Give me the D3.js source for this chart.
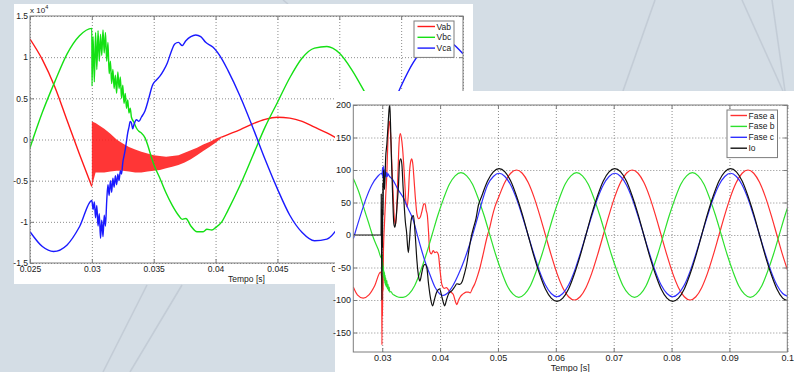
<!DOCTYPE html>
<html lang="en">
<head>
<meta charset="utf-8">
<title>Tensoes e correntes - falta</title>
<script src="https://cdn.jsdelivr.net/npm/d3@7"></script>
<style>
  body { margin: 0; background: #d4dde5; }
  svg { display: block; font-family: "Liberation Sans", Arial, sans-serif; }
</style>
</head>
<body>
<script>

// ---------- plot 1 : line voltages (x 10^4) ----------
var xTicks1 = [0.025, 0.03, 0.035, 0.04, 0.045, 0.05, 0.055, 0.06];
var xLabels1 = ["0.025", "0.03", "0.035", "0.04", "0.045", "0.05", "0.055", "0.06"];
var yTicks1 = [-1.5, -1, -0.5, 0, 0.5, 1, 1.5];
var yLabels1 = ["-1.5", "-1", "-0.5", "0", "0.5", "1", "1.5"];
var names1 = ["Vab", "Vbc", "Vca"];

var vabPre = [[0.025,1.22],[0.026,0.97],[0.027,0.64],[0.028,0.23],[0.029,-0.18],[0.030,-0.57]];
// dense oscillation after the fault: [t, upper, lower]
var vabBand = [[0.0300,0.22,-0.57],[0.0303,0.20,-0.40],[0.0306,0.17,-0.40],[0.0310,0.13,-0.40],
  [0.0315,0.07,-0.39],[0.0320,0.00,-0.38],[0.0325,-0.05,-0.38],[0.0330,-0.09,-0.39],
  [0.0335,-0.12,-0.40],[0.0340,-0.15,-0.40],[0.0345,-0.17,-0.39],[0.0350,-0.19,-0.38],
  [0.0355,-0.20,-0.37],[0.0360,-0.21,-0.35],[0.0365,-0.20,-0.33],[0.0370,-0.19,-0.31],
  [0.0375,-0.16,-0.28],[0.0380,-0.13,-0.24],[0.0385,-0.10,-0.19],[0.0390,-0.06,-0.14],
  [0.0395,-0.03,-0.09],[0.0400,0.01,-0.04],[0.0405,0.04,0.02]];
var vabPost = [[0.0405,0.03],[0.041,0.06],[0.042,0.12],[0.043,0.19],[0.044,0.245],[0.045,0.27],
  [0.046,0.26],[0.047,0.22],[0.048,0.15],[0.049,0.08],[0.050,0.0],[0.051,-0.08],[0.052,-0.16],[0.053,-0.22]];

var vbc = [[0.025,-0.1],[0.026,0.33],[0.027,0.7],[0.028,1.04],[0.029,1.26],[0.030,1.35],
  [0.03001,0.65],[0.0301,1.25],[0.0302,0.7],[0.0303,1.3],[0.0304,0.85],[0.0305,1.32],[0.0306,0.95],
  [0.0307,1.28],[0.0308,1.02],[0.0309,1.33],[0.0310,1.05],[0.0311,1.3],[0.0312,0.95],[0.0313,1.18],
  [0.0314,0.8],[0.0315,0.95],[0.0316,0.68],[0.0317,0.85],[0.0318,0.62],[0.0319,0.78],[0.0320,0.56],
  [0.0321,0.82],[0.0322,0.62],[0.0323,0.76],[0.0324,0.5],[0.0325,0.66],[0.0326,0.44],[0.0327,0.56],
  [0.0328,0.38],[0.0329,0.48],[0.0330,0.32],[0.0331,0.38],[0.0332,0.27],[0.0334,0.21],[0.0336,0.14],
  [0.0338,0.1],[0.0340,0.08],[0.0343,0.02],[0.0345,-0.06],[0.0348,-0.21],[0.035,-0.3],[0.0355,-0.47],
  [0.036,-0.65],[0.0365,-0.8],[0.037,-0.92],[0.0373,-0.97],[0.0376,-0.96],[0.038,-1.05],[0.0385,-1.12],
  [0.039,-1.12],[0.0393,-1.09],[0.0397,-1.1],[0.040,-1.07],[0.0405,-1.0],[0.041,-0.86],[0.042,-0.55],
  [0.043,-0.2],[0.044,0.15],[0.045,0.45],[0.046,0.75],[0.047,0.99],[0.048,1.11],[0.049,1.13],
  [0.050,1.05],[0.051,0.85],[0.052,0.59],[0.053,0.3],[0.054,0.0]];

var vca = [[0.025,-1.12],[0.026,-1.3],[0.0269,-1.36],[0.028,-1.28],[0.029,-1.06],[0.030,-0.74],
  [0.0301,-0.85],[0.0302,-0.76],[0.0303,-0.95],[0.0304,-0.8],[0.0305,-1.05],[0.0306,-0.9],[0.0307,-1.2],
  [0.0308,-0.98],[0.0309,-1.18],[0.0310,-0.92],[0.0311,-1.05],[0.0312,-0.75],[0.0313,-0.55],[0.0314,-0.68],
  [0.0315,-0.5],[0.0316,-0.64],[0.0317,-0.47],[0.0318,-0.58],[0.0319,-0.44],[0.0320,-0.55],[0.0321,-0.42],
  [0.0322,-0.5],[0.0323,-0.38],[0.0324,-0.42],[0.0325,-0.28],[0.0326,-0.2],[0.0327,-0.12],[0.0328,-0.02],
  [0.0329,0.08],[0.0330,0.15],[0.0331,0.22],[0.0332,0.2],[0.0333,0.13],[0.0334,0.18],[0.0336,0.24],
  [0.0338,0.22],[0.034,0.27],[0.0343,0.35],[0.0346,0.5],[0.0349,0.66],[0.0352,0.72],[0.0355,0.77],
  [0.0358,0.84],[0.0361,0.93],[0.0364,1.06],[0.0367,1.16],[0.037,1.18],[0.0373,1.14],[0.0376,1.2],
  [0.038,1.25],[0.0384,1.27],[0.0388,1.25],[0.0392,1.18],[0.0398,1.12],[0.0405,0.98],[0.041,0.84],
  [0.042,0.52],[0.043,0.15],[0.044,-0.24],[0.045,-0.6],[0.046,-0.92],[0.047,-1.13],[0.048,-1.23],
  [0.049,-1.21],[0.050,-1.05],[0.051,-0.78],[0.052,-0.45],[0.053,-0.08],[0.054,0.3],[0.055,0.65],
  [0.056,0.94],[0.057,1.13],[0.058,1.22],[0.059,1.18],[0.060,1.04]];

// ---------- plot 2 : phase currents ----------
var xTicks2 = [0.03, 0.04, 0.05, 0.06, 0.07, 0.08, 0.09, 0.1];
var xLabels2 = ["0.03", "0.04", "0.05", "0.06", "0.07", "0.08", "0.09", "0.1"];
var yTicks2 = [-150, -100, -50, 0, 50, 100, 150, 200];
var yLabels2 = ["-150", "-100", "-50", "0", "50", "100", "150", "200"];
var names2 = ["Fase a", "Fase b", "Fase c", "Io"];

var faseA = [[0.025,-80],[0.0257,-92],[0.0267,-97],[0.0277,-92],[0.0287,-78],[0.0297,-57],[0.0299,-65],
  [0.02995,-169],[0.0300,-90],[0.03005,-125],[0.0301,-60],[0.03015,-85],[0.0302,-29],[0.0304,20],[0.0306,60],
  [0.0308,95],[0.0310,150],[0.0312,175],[0.0313,172],[0.0315,145],[0.0317,100],[0.0319,60],[0.0321,25],
  [0.0323,15],[0.0325,40],[0.0327,90],[0.0329,140],[0.0331,156],[0.0333,150],[0.0335,135],[0.0337,110],
  [0.0339,80],[0.0341,50],[0.0343,43],[0.0345,60],[0.0347,95],[0.0349,112],[0.0351,117],[0.0353,108],
  [0.0355,85],[0.0357,60],[0.0360,32],[0.0363,25],[0.0366,28],[0.0369,38],[0.0372,48],[0.0374,48],
  [0.0376,38],[0.0378,30],[0.0380,5],[0.0382,-25],[0.0385,-29],[0.0388,-24],[0.0391,-27],[0.0394,-26],
  [0.0397,-30],[0.0400,-55],[0.0403,-76],[0.0407,-82],[0.0411,-81],[0.0415,-85],[0.0419,-88],[0.0423,-92],
  [0.0427,-104],[0.0429,-107],[0.0432,-100],[0.0435,-95],[0.0438,-92],[0.0441,-90],[0.0445,-88],
  [0.0449,-88],[0.0452,-89],[0.0456,-82],[0.0460,-75],[0.0465,-62],[0.0469,-50],[0.0473,-35],[0.0477,-19],
  [0.0482,0],[0.0486,12],[0.0490,28],[0.0495,44],[0.0502,60],[0.0512,81],[0.0522,95],[0.0532,100],
  [0.0542,95],[0.0552,81],[0.0562,59],[0.0572,31],[0.0582,0],[0.0592,-31],[0.0602,-59],[0.0612,-81],
  [0.0622,-95],[0.0632,-100],[0.0642,-95],[0.0652,-81],[0.0662,-59],[0.0672,-31],[0.0682,0],[0.0692,31],
  [0.0702,59],[0.0712,81],[0.0722,95],[0.0732,100],[0.0742,95],[0.0752,81],[0.0762,59],[0.0772,31],
  [0.0782,0],[0.0792,-31],[0.0802,-59],[0.0812,-81],[0.0822,-95],[0.0832,-100],[0.0842,-95],[0.0852,-81],
  [0.0862,-59],[0.0872,-31],[0.0882,0],[0.0892,31],[0.0902,59],[0.0912,81],[0.0922,95],[0.0932,100],
  [0.0942,95],[0.0952,81],[0.0962,59],[0.0972,31],[0.0982,0],[0.0992,-31],[0.1,-53]];

var faseB = [[0.025,87],[0.026,65],[0.0267,45],[0.0276,20],[0.0285,-5],[0.0293,-22],[0.0299,-36],
  [0.03,-30],[0.03005,-55],[0.0301,-42],[0.03015,-62],[0.0302,-48],[0.03025,-66],[0.0303,-55],[0.03035,-70],
  [0.0304,-58],[0.03045,-74],[0.0305,-62],[0.03055,-77],[0.0306,-66],[0.0307,-80],[0.0308,-70],[0.0309,-83],
  [0.031,-76],[0.0311,-86],[0.0312,-80],[0.0313,-88],[0.0315,-87],[0.0318,-91],[0.0322,-93],[0.0326,-95],
  [0.0331,-96],[0.0336,-96],[0.0346,-91],[0.0356,-78],[0.0366,-56],[0.0376,-30],[0.0386,0],[0.0396,30],
  [0.0406,56],[0.0416,78],[0.0426,91],[0.0436,96],[0.0446,91],[0.0456,78],[0.0466,56],[0.0476,30],
  [0.0486,0],[0.0496,-30],[0.0506,-56],[0.0516,-78],[0.0526,-91],[0.0536,-96],[0.0546,-91],[0.0556,-78],
  [0.0566,-56],[0.0576,-30],[0.0586,0],[0.0596,30],[0.0606,56],[0.0616,78],[0.0626,91],[0.0636,96],
  [0.0646,91],[0.0656,78],[0.0666,56],[0.0676,30],[0.0686,0],[0.0696,-30],[0.0706,-56],[0.0716,-78],
  [0.0726,-91],[0.0736,-96],[0.0746,-91],[0.0756,-78],[0.0766,-56],[0.0776,-30],[0.0786,0],[0.0796,30],
  [0.0806,56],[0.0816,78],[0.0826,91],[0.0836,96],[0.0846,91],[0.0856,78],[0.0866,56],[0.0876,30],
  [0.0886,0],[0.0896,-30],[0.0906,-56],[0.0916,-78],[0.0926,-91],[0.0936,-96],[0.0946,-91],[0.0956,-78],
  [0.0966,-56],[0.0976,-30],[0.0986,0],[0.0996,30],[0.1,41]];

var faseC = [[0.025,-6],[0.0252,0],[0.0262,29],[0.0272,56],[0.0282,77],[0.0292,90],[0.0299,95],
  [0.03,92],[0.03005,104],[0.0301,88],[0.03015,103],[0.0302,90],[0.03025,106],[0.0303,91],[0.03035,101],
  [0.0304,88],[0.03045,99],[0.0305,90],[0.0306,97],[0.0307,89],[0.0308,96],[0.0309,90],[0.031,94],
  [0.0312,91],[0.0319,84],[0.0326,72],[0.0336,58],[0.0345,40],[0.0354,22],[0.036,2],[0.0365,-14],
  [0.0373,-38],[0.0382,-60],[0.0391,-80],[0.04,-91],[0.0406,-93],[0.0412,-90],[0.0422,-78],[0.0432,-60],
  [0.0442,-38],[0.0452,-12],[0.0462,18],[0.0472,50],[0.0482,77],[0.0492,90],[0.0502,95],[0.0512,90],
  [0.0522,77],[0.0532,56],[0.0542,29],[0.0552,0],[0.0562,-29],[0.0572,-56],[0.0582,-77],[0.0592,-90],
  [0.0602,-95],[0.0612,-90],[0.0622,-77],[0.0632,-56],[0.0642,-29],[0.0652,0],[0.0662,29],[0.0672,56],
  [0.0682,77],[0.0692,90],[0.0702,95],[0.0712,90],[0.0722,77],[0.0732,56],[0.0742,29],[0.0752,0],
  [0.0762,-29],[0.0772,-56],[0.0782,-77],[0.0792,-90],[0.0802,-95],[0.0812,-90],[0.0822,-77],[0.0832,-56],
  [0.0842,-29],[0.0852,0],[0.0862,29],[0.0872,56],[0.0882,77],[0.0892,90],[0.0902,95],[0.0912,90],
  [0.0922,77],[0.0932,56],[0.0942,29],[0.0952,0],[0.0962,-29],[0.0972,-56],[0.0982,-77],[0.0992,-90],[0.1,-94]];

var io = [[0.025,0],[0.0298,0],[0.02983,63],[0.02987,10],[0.0299,-40],[0.02995,-100],[0.03,40],
  [0.03005,-20],[0.0301,80],[0.03015,30],[0.0302,100],[0.0304,70],[0.0306,120],[0.0308,140],[0.031,168],
  [0.0312,195],[0.0313,200],[0.0314,180],[0.0316,115],[0.0318,60],[0.032,18],[0.0322,12],[0.0324,25],
  [0.0326,50],[0.0328,75],[0.033,112],[0.0332,117],[0.0334,108],[0.0336,74],[0.0338,45],[0.034,20],
  [0.0342,5],[0.0345,-27],[0.0347,-10],[0.0349,15],[0.0351,27],[0.0354,30],[0.0357,0],[0.036,-40],
  [0.0363,-65],[0.0365,-71],[0.0368,-60],[0.0371,-48],[0.0374,-45],[0.0377,-50],[0.038,-75],[0.0384,-100],
  [0.0387,-109],[0.039,-100],[0.0394,-88],[0.0399,-83],[0.0403,-95],[0.0406,-105],[0.0408,-109],
  [0.0411,-100],[0.0415,-90],[0.042,-86],[0.0425,-80],[0.0429,-75],[0.0434,-76],[0.0438,-72],[0.0442,-60],
  [0.0446,-45],[0.045,-22],[0.0454,-2],[0.0458,12],[0.0462,25],[0.0466,45],[0.0472,60],[0.0482,83],
  [0.0492,97],[0.0502,102],[0.0512,97],[0.0522,83],[0.0532,60],[0.0542,32],[0.0552,0],[0.0562,-32],
  [0.0572,-60],[0.0582,-83],[0.0592,-97],[0.0602,-102],[0.0612,-97],[0.0622,-83],[0.0632,-60],[0.0642,-32],
  [0.0652,0],[0.0662,32],[0.0672,60],[0.0682,83],[0.0692,97],[0.0702,102],[0.0712,97],[0.0722,83],
  [0.0732,60],[0.0742,32],[0.0752,0],[0.0762,-32],[0.0772,-60],[0.0782,-83],[0.0792,-97],[0.0802,-102],
  [0.0812,-97],[0.0822,-83],[0.0832,-60],[0.0842,-32],[0.0852,0],[0.0862,32],[0.0872,60],[0.0882,83],
  [0.0892,97],[0.0902,102],[0.0912,97],[0.0922,83],[0.0932,60],[0.0942,32],[0.0952,0],[0.0962,-32],
  [0.0972,-60],[0.0982,-83],[0.0992,-97],[0.1,-101]];

// faint streaks of the slide background
var bgLines = [[147,285,103,372],[182,285,130,372],[655,0,623,91],[742,0,783,91],[772,0,785,91],[283,0,288,4]];

var w = 794;
var h = 372;

var svg = d3.select("body")
            .append("svg")
            .attr("width", w)
            .attr("height", h);

svg.append("rect").attr("width", w).attr("height", h).attr("fill", "#d4dde5");
svg.selectAll("line.bg")
   .data(bgLines)
   .enter()
   .append("line")
   .attr("class", "bg")
   .attr("x1", function(d) { return d[0]; })
   .attr("y1", function(d) { return d[1]; })
   .attr("x2", function(d) { return d[2]; })
   .attr("y2", function(d) { return d[3]; })
   .attr("stroke", "#c3ccd6")
   .attr("stroke-width", 1.6);

function drawPlot(p) {
	var g = svg.append("g");
	g.append("rect")
	 .attr("x", p.panel[0]).attr("y", p.panel[1])
	 .attr("width", p.panel[2]).attr("height", p.panel[3])
	 .attr("fill", "#fff");

	var x = d3.scaleLinear().domain(p.xDomain).range([p.left, p.right]);
	var y = d3.scaleLinear().domain(p.yDomain).range([p.bottom, p.top]);
	var pw = p.right - p.left, ph = p.bottom - p.top;

	// dotted grid
	g.append("g")
	 .attr("transform", "translate(0," + p.bottom + ")")
	 .call(d3.axisBottom(x).tickValues(p.xTicks).tickSize(-ph).tickFormat(""))
	 .call(function(s) {
		 s.select(".domain").remove();
		 s.selectAll("line").attr("stroke", "#8c8c8c").attr("stroke-dasharray", "1,2");
	 });
	g.append("g")
	 .attr("transform", "translate(" + p.left + ",0)")
	 .call(d3.axisLeft(y).tickValues(p.yTicks).tickSize(-pw).tickFormat(""))
	 .call(function(s) {
		 s.select(".domain").remove();
		 s.selectAll("line").attr("stroke", "#8c8c8c").attr("stroke-dasharray", "1,2");
	 });

	var clipId = "clip" + p.id;
	g.append("clipPath").attr("id", clipId)
	 .append("rect").attr("x", p.left).attr("y", p.top).attr("width", pw).attr("height", ph);
	var plotArea = g.append("g").attr("clip-path", "url(#" + clipId + ")");

	var line = d3.line()
				 .x(function(d) { return x(d[0]); })
				 .y(function(d) { return y(d[1]); })
				 .curve(d3.curveMonotoneX);

	p.series.forEach(function(s) {
		if (s.band) {
			plotArea.append("path")
					.datum(s.band)
					.attr("d", d3.area()
								 .x(function(d) { return x(d[0]); })
								 .y0(function(d) { return y(d[2]); })
								 .y1(function(d) { return y(d[1]); }))
					.attr("fill", s.color)
					.attr("fill-opacity", 0.88);
		}
		s.parts.forEach(function(pts) {
			plotArea.append("path")
					.datum(pts)
					.attr("d", line)
					.attr("fill", "none")
					.attr("stroke", s.color)
					.attr("stroke-width", p.lw)
					.attr("stroke-linejoin", "round");
		});
	});

	// box and inward ticks
	g.append("rect")
	 .attr("x", p.left).attr("y", p.top).attr("width", pw).attr("height", ph)
	 .attr("fill", "none").attr("stroke", "#7d7d7d").attr("stroke-width", 1);

	var fmtX = function(d, i) { return p.xLabels[i]; };
	var fmtY = function(d, i) { return p.yLabels[i]; };
	function style(s) {
		s.select(".domain").remove();
		s.selectAll("line").attr("stroke", "#7d7d7d");
		s.selectAll("text").attr("fill", "#1a1a1a").attr("font-size", p.fs + "px")
		 .attr("font-family", "'Liberation Sans', Arial, sans-serif");
	}
	g.append("g").attr("transform", "translate(0," + p.bottom + ")")
	 .call(d3.axisBottom(x).tickValues(p.xTicks).tickFormat(fmtX).tickSizeInner(-4).tickSizeOuter(0).tickPadding(p.xPad))
	 .call(style);
	g.append("g").attr("transform", "translate(0," + p.top + ")")
	 .call(d3.axisTop(x).tickValues(p.xTicks).tickFormat("").tickSizeInner(-4).tickSizeOuter(0))
	 .call(style);
	g.append("g").attr("transform", "translate(" + p.left + ",0)")
	 .call(d3.axisLeft(y).tickValues(p.yTicks).tickFormat(fmtY).tickSizeInner(-4).tickSizeOuter(0).tickPadding(p.yPad))
	 .call(style);
	g.append("g").attr("transform", "translate(" + p.right + ",0)")
	 .call(d3.axisRight(y).tickValues(p.yTicks).tickFormat("").tickSizeInner(-4).tickSizeOuter(0))
	 .call(style);

	g.append("text")
	 .attr("x", (p.left + p.right) / 2)
	 .attr("y", p.xTitleY)
	 .attr("text-anchor", "middle")
	 .attr("font-size", p.fs + "px")
	 .attr("fill", "#1a1a1a")
	 .text("Tempo [s]");

	// legend
	var L = p.legend;
	g.append("rect")
	 .attr("x", L.x).attr("y", L.y).attr("width", L.w).attr("height", L.rowH * p.series.length + 4)
	 .attr("fill", "#fff").attr("stroke", "#7d7d7d");
	var items = g.selectAll("g.leg")
				 .data(p.series)
				 .enter()
				 .append("g")
				 .attr("transform", function(d, i) {
					 return "translate(" + L.x + "," + (L.y + 5.5 + i * L.rowH) + ")";
				 });
	items.append("line")
		 .attr("x1", 3.5).attr("x2", L.lineW)
		 .attr("stroke", function(d) { return d.color; })
		 .attr("stroke-width", 1.4);
	items.append("text")
		 .attr("x", L.lineW + 1.5).attr("y", 3)
		 .attr("font-size", L.fs + "px")
		 .attr("fill", "#1a1a1a")
		 .text(function(d) { return d.name; });
	return g;
}

var g1 = drawPlot({
	id: 1, panel: [14, 4, 459, 280],
	left: 30, right: 463, top: 16, bottom: 263,
	xDomain: [0.025, 0.06], yDomain: [-1.5, 1.5],
	xTicks: xTicks1, xLabels: xLabels1, yTicks: yTicks1, yLabels: yLabels1,
	fs: 8.5, xPad: 3, yPad: 2, xTitleY: 282, lw: 1.4,
	series: [
		{ name: names1[0], color: "#ff1a1a", parts: [vabPre, vabPost], band: vabBand },
		{ name: names1[1], color: "#14e014", parts: [vbc] },
		{ name: names1[2], color: "#1a1aff", parts: [vca] }
	],
	legend: { x: 414, y: 21, w: 40, rowH: 10.8, lineW: 21, fs: 8.5 }
});

// exponent label of plot 1
var expo = g1.append("text").attr("x", 30).attr("y", 13).attr("font-size", "8px").attr("fill", "#1a1a1a");
expo.append("tspan").text("x 10");
expo.append("tspan").attr("dy", -4).attr("font-size", "5.5px").text("4");

drawPlot({
	id: 2, panel: [335, 91, 459, 281],
	left: 353.3, right: 787.3, top: 105, bottom: 352,
	xDomain: [0.025, 0.1], yDomain: [-180, 200],
	xTicks: xTicks2, xLabels: xLabels2, yTicks: yTicks2, yLabels: yLabels2,
	fs: 9, xPad: 2.6, yPad: 2.3, xTitleY: 371, lw: 1.2,
	series: [
		{ name: names2[0], color: "#ff3030", parts: [faseA] },
		{ name: names2[1], color: "#2ee02e", parts: [faseB] },
		{ name: names2[2], color: "#3030ff", parts: [faseC] },
		{ name: names2[3], color: "#111111", parts: [io] }
	],
	legend: { x: 727, y: 110, w: 50.5, rowH: 10.9, lineW: 20, fs: 8.5 }
});

</script>
</body>
</html>
